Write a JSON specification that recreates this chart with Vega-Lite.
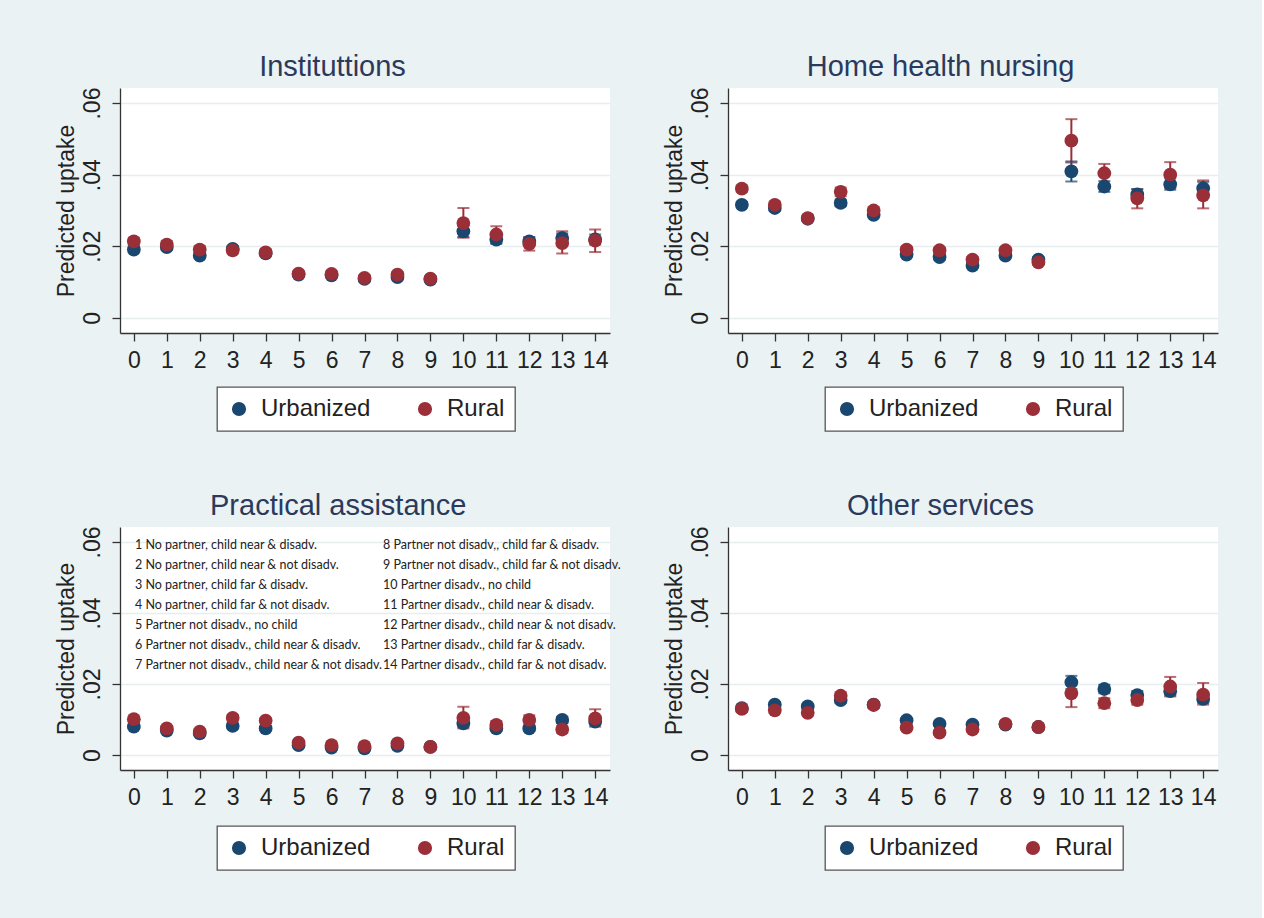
{
"$schema": "https://vega.github.io/schema/vega-lite/v6.json",
"padding": {"left": 55, "top": 53, "right": 44, "bottom": 48},
"data": {"name": "d"},
"datasets": {
"d": [
{"p":"I","x":0,"g":"Urbanized","y":0.0191,"lo":0.0183,"hi":0.0199},
{"p":"I","x":1,"g":"Urbanized","y":0.0198,"lo":0.0190,"hi":0.0206},
{"p":"I","x":2,"g":"Urbanized","y":0.0174,"lo":0.0166,"hi":0.0182},
{"p":"I","x":3,"g":"Urbanized","y":0.0193,"lo":0.0185,"hi":0.0201},
{"p":"I","x":4,"g":"Urbanized","y":0.0180,"lo":0.0172,"hi":0.0188},
{"p":"I","x":5,"g":"Urbanized","y":0.0121,"lo":0.0115,"hi":0.0127},
{"p":"I","x":6,"g":"Urbanized","y":0.0119,"lo":0.0113,"hi":0.0125},
{"p":"I","x":7,"g":"Urbanized","y":0.0109,"lo":0.0103,"hi":0.0115},
{"p":"I","x":8,"g":"Urbanized","y":0.0114,"lo":0.0108,"hi":0.0120},
{"p":"I","x":9,"g":"Urbanized","y":0.0107,"lo":0.0101,"hi":0.0113},
{"p":"I","x":10,"g":"Urbanized","y":0.0242,"lo":0.0226,"hi":0.0258},
{"p":"I","x":11,"g":"Urbanized","y":0.0219,"lo":0.0207,"hi":0.0231},
{"p":"I","x":12,"g":"Urbanized","y":0.0214,"lo":0.0202,"hi":0.0226},
{"p":"I","x":13,"g":"Urbanized","y":0.0223,"lo":0.0210,"hi":0.0236},
{"p":"I","x":14,"g":"Urbanized","y":0.0219,"lo":0.0205,"hi":0.0233},
{"p":"I","x":0,"g":"Rural","y":0.0214,"lo":0.0204,"hi":0.0224},
{"p":"I","x":1,"g":"Rural","y":0.0205,"lo":0.0195,"hi":0.0215},
{"p":"I","x":2,"g":"Rural","y":0.0191,"lo":0.0181,"hi":0.0201},
{"p":"I","x":3,"g":"Rural","y":0.0189,"lo":0.0180,"hi":0.0198},
{"p":"I","x":4,"g":"Rural","y":0.0183,"lo":0.0174,"hi":0.0192},
{"p":"I","x":5,"g":"Rural","y":0.0124,"lo":0.0117,"hi":0.0131},
{"p":"I","x":6,"g":"Rural","y":0.0123,"lo":0.0116,"hi":0.0130},
{"p":"I","x":7,"g":"Rural","y":0.0112,"lo":0.0105,"hi":0.0119},
{"p":"I","x":8,"g":"Rural","y":0.0121,"lo":0.0114,"hi":0.0128},
{"p":"I","x":9,"g":"Rural","y":0.0110,"lo":0.0103,"hi":0.0117},
{"p":"I","x":10,"g":"Rural","y":0.0265,"lo":0.0224,"hi":0.0307},
{"p":"I","x":11,"g":"Rural","y":0.0233,"lo":0.0209,"hi":0.0256},
{"p":"I","x":12,"g":"Rural","y":0.0207,"lo":0.0188,"hi":0.0224},
{"p":"I","x":13,"g":"Rural","y":0.0209,"lo":0.0180,"hi":0.0242},
{"p":"I","x":14,"g":"Rural","y":0.0216,"lo":0.0184,"hi":0.0247},
{"p":"H","x":0,"g":"Urbanized","y":0.0316,"lo":0.0308,"hi":0.0324},
{"p":"H","x":1,"g":"Urbanized","y":0.0307,"lo":0.0299,"hi":0.0315},
{"p":"H","x":2,"g":"Urbanized","y":0.0277,"lo":0.0270,"hi":0.0284},
{"p":"H","x":3,"g":"Urbanized","y":0.0321,"lo":0.0312,"hi":0.0330},
{"p":"H","x":4,"g":"Urbanized","y":0.0288,"lo":0.0280,"hi":0.0296},
{"p":"H","x":5,"g":"Urbanized","y":0.0177,"lo":0.0170,"hi":0.0184},
{"p":"H","x":6,"g":"Urbanized","y":0.0170,"lo":0.0163,"hi":0.0177},
{"p":"H","x":7,"g":"Urbanized","y":0.0146,"lo":0.0140,"hi":0.0152},
{"p":"H","x":8,"g":"Urbanized","y":0.0174,"lo":0.0167,"hi":0.0181},
{"p":"H","x":9,"g":"Urbanized","y":0.0163,"lo":0.0156,"hi":0.0170},
{"p":"H","x":10,"g":"Urbanized","y":0.0409,"lo":0.0381,"hi":0.0437},
{"p":"H","x":11,"g":"Urbanized","y":0.0367,"lo":0.0352,"hi":0.0382},
{"p":"H","x":12,"g":"Urbanized","y":0.0345,"lo":0.0330,"hi":0.0360},
{"p":"H","x":13,"g":"Urbanized","y":0.0373,"lo":0.0358,"hi":0.0390},
{"p":"H","x":14,"g":"Urbanized","y":0.0362,"lo":0.0344,"hi":0.0380},
{"p":"H","x":0,"g":"Rural","y":0.0361,"lo":0.0352,"hi":0.0370},
{"p":"H","x":1,"g":"Rural","y":0.0316,"lo":0.0307,"hi":0.0325},
{"p":"H","x":2,"g":"Rural","y":0.0279,"lo":0.0271,"hi":0.0287},
{"p":"H","x":3,"g":"Rural","y":0.0352,"lo":0.0340,"hi":0.0364},
{"p":"H","x":4,"g":"Rural","y":0.0300,"lo":0.0290,"hi":0.0310},
{"p":"H","x":5,"g":"Rural","y":0.0191,"lo":0.0183,"hi":0.0199},
{"p":"H","x":6,"g":"Rural","y":0.0189,"lo":0.0181,"hi":0.0197},
{"p":"H","x":7,"g":"Rural","y":0.0163,"lo":0.0156,"hi":0.0170},
{"p":"H","x":8,"g":"Rural","y":0.0189,"lo":0.0181,"hi":0.0197},
{"p":"H","x":9,"g":"Rural","y":0.0155,"lo":0.0148,"hi":0.0162},
{"p":"H","x":10,"g":"Rural","y":0.0495,"lo":0.0434,"hi":0.0555},
{"p":"H","x":11,"g":"Rural","y":0.0404,"lo":0.0370,"hi":0.0430},
{"p":"H","x":12,"g":"Rural","y":0.0334,"lo":0.0306,"hi":0.0359},
{"p":"H","x":13,"g":"Rural","y":0.0400,"lo":0.0363,"hi":0.0435},
{"p":"H","x":14,"g":"Rural","y":0.0342,"lo":0.0306,"hi":0.0384},
{"p":"P","x":0,"g":"Urbanized","y":0.0080,"lo":0.0075,"hi":0.0085},
{"p":"P","x":1,"g":"Urbanized","y":0.0069,"lo":0.0064,"hi":0.0074},
{"p":"P","x":2,"g":"Urbanized","y":0.0061,"lo":0.0056,"hi":0.0066},
{"p":"P","x":3,"g":"Urbanized","y":0.0082,"lo":0.0076,"hi":0.0088},
{"p":"P","x":4,"g":"Urbanized","y":0.0075,"lo":0.0070,"hi":0.0080},
{"p":"P","x":5,"g":"Urbanized","y":0.0028,"lo":0.0025,"hi":0.0031},
{"p":"P","x":6,"g":"Urbanized","y":0.0021,"lo":0.0018,"hi":0.0024},
{"p":"P","x":7,"g":"Urbanized","y":0.0019,"lo":0.0016,"hi":0.0022},
{"p":"P","x":8,"g":"Urbanized","y":0.0026,"lo":0.0023,"hi":0.0029},
{"p":"P","x":9,"g":"Urbanized","y":0.0023,"lo":0.0020,"hi":0.0026},
{"p":"P","x":10,"g":"Urbanized","y":0.0089,"lo":0.0079,"hi":0.0099},
{"p":"P","x":11,"g":"Urbanized","y":0.0075,"lo":0.0068,"hi":0.0082},
{"p":"P","x":12,"g":"Urbanized","y":0.0075,"lo":0.0068,"hi":0.0082},
{"p":"P","x":13,"g":"Urbanized","y":0.0099,"lo":0.0090,"hi":0.0108},
{"p":"P","x":14,"g":"Urbanized","y":0.0094,"lo":0.0086,"hi":0.0102},
{"p":"P","x":0,"g":"Rural","y":0.0101,"lo":0.0094,"hi":0.0108},
{"p":"P","x":1,"g":"Rural","y":0.0075,"lo":0.0069,"hi":0.0081},
{"p":"P","x":2,"g":"Rural","y":0.0066,"lo":0.0060,"hi":0.0072},
{"p":"P","x":3,"g":"Rural","y":0.0105,"lo":0.0097,"hi":0.0113},
{"p":"P","x":4,"g":"Rural","y":0.0097,"lo":0.0090,"hi":0.0104},
{"p":"P","x":5,"g":"Rural","y":0.0035,"lo":0.0031,"hi":0.0039},
{"p":"P","x":6,"g":"Rural","y":0.0028,"lo":0.0024,"hi":0.0032},
{"p":"P","x":7,"g":"Rural","y":0.0025,"lo":0.0021,"hi":0.0029},
{"p":"P","x":8,"g":"Rural","y":0.0033,"lo":0.0029,"hi":0.0037},
{"p":"P","x":9,"g":"Rural","y":0.0023,"lo":0.0019,"hi":0.0027},
{"p":"P","x":10,"g":"Rural","y":0.0105,"lo":0.0075,"hi":0.0136},
{"p":"P","x":11,"g":"Rural","y":0.0085,"lo":0.0074,"hi":0.0096},
{"p":"P","x":12,"g":"Rural","y":0.0099,"lo":0.0085,"hi":0.0112},
{"p":"P","x":13,"g":"Rural","y":0.0072,"lo":0.0062,"hi":0.0082},
{"p":"P","x":14,"g":"Rural","y":0.0103,"lo":0.0080,"hi":0.0129},
{"p":"O","x":0,"g":"Urbanized","y":0.0132,"lo":0.0125,"hi":0.0139},
{"p":"O","x":1,"g":"Urbanized","y":0.0142,"lo":0.0135,"hi":0.0149},
{"p":"O","x":2,"g":"Urbanized","y":0.0137,"lo":0.0130,"hi":0.0144},
{"p":"O","x":3,"g":"Urbanized","y":0.0155,"lo":0.0147,"hi":0.0163},
{"p":"O","x":4,"g":"Urbanized","y":0.0142,"lo":0.0135,"hi":0.0149},
{"p":"O","x":5,"g":"Urbanized","y":0.0098,"lo":0.0092,"hi":0.0104},
{"p":"O","x":6,"g":"Urbanized","y":0.0088,"lo":0.0082,"hi":0.0094},
{"p":"O","x":7,"g":"Urbanized","y":0.0086,"lo":0.0080,"hi":0.0092},
{"p":"O","x":8,"g":"Urbanized","y":0.0086,"lo":0.0080,"hi":0.0092},
{"p":"O","x":9,"g":"Urbanized","y":0.0079,"lo":0.0073,"hi":0.0085},
{"p":"O","x":10,"g":"Urbanized","y":0.0205,"lo":0.0186,"hi":0.0223},
{"p":"O","x":11,"g":"Urbanized","y":0.0186,"lo":0.0174,"hi":0.0198},
{"p":"O","x":12,"g":"Urbanized","y":0.0169,"lo":0.0158,"hi":0.0180},
{"p":"O","x":13,"g":"Urbanized","y":0.0180,"lo":0.0168,"hi":0.0192},
{"p":"O","x":14,"g":"Urbanized","y":0.0158,"lo":0.0147,"hi":0.0169},
{"p":"O","x":0,"g":"Rural","y":0.0130,"lo":0.0122,"hi":0.0138},
{"p":"O","x":1,"g":"Rural","y":0.0126,"lo":0.0118,"hi":0.0134},
{"p":"O","x":2,"g":"Rural","y":0.0119,"lo":0.0111,"hi":0.0127},
{"p":"O","x":3,"g":"Rural","y":0.0167,"lo":0.0157,"hi":0.0177},
{"p":"O","x":4,"g":"Rural","y":0.0141,"lo":0.0133,"hi":0.0149},
{"p":"O","x":5,"g":"Rural","y":0.0077,"lo":0.0071,"hi":0.0083},
{"p":"O","x":6,"g":"Rural","y":0.0063,"lo":0.0057,"hi":0.0069},
{"p":"O","x":7,"g":"Rural","y":0.0072,"lo":0.0066,"hi":0.0078},
{"p":"O","x":8,"g":"Rural","y":0.0088,"lo":0.0081,"hi":0.0095},
{"p":"O","x":9,"g":"Rural","y":0.0079,"lo":0.0073,"hi":0.0085},
{"p":"O","x":10,"g":"Rural","y":0.0174,"lo":0.0135,"hi":0.0205},
{"p":"O","x":11,"g":"Rural","y":0.0146,"lo":0.0132,"hi":0.0160},
{"p":"O","x":12,"g":"Rural","y":0.0155,"lo":0.0142,"hi":0.0168},
{"p":"O","x":13,"g":"Rural","y":0.0193,"lo":0.0165,"hi":0.0220},
{"p":"O","x":14,"g":"Rural","y":0.0170,"lo":0.0142,"hi":0.0203}
],
"notes": [
{"col":1,"row":1,"label":"1 No partner, child near & disadv."},
{"col":1,"row":2,"label":"2 No partner, child near & not disadv."},
{"col":1,"row":3,"label":"3 No partner, child  far & disadv."},
{"col":1,"row":4,"label":"4 No partner,  child far & not disadv."},
{"col":1,"row":5,"label":"5 Partner not disadv., no child"},
{"col":1,"row":6,"label":"6 Partner not disadv., child near & disadv."},
{"col":1,"row":7,"label":"7 Partner not disadv., child near & not disadv."},
{"col":2,"row":1,"label":"8 Partner not disadv,, child far & disadv."},
{"col":2,"row":2,"label":"9 Partner not disadv., child far & not disadv."},
{"col":2,"row":3,"label":"10 Partner disadv., no child"},
{"col":2,"row":4,"label":"11 Partner disadv., child near & disadv."},
{"col":2,"row":5,"label":"12 Partner disadv., child near & not disadv."},
{"col":2,"row":6,"label":"13 Partner disadv., child far & disadv."},
{"col":2,"row":7,"label":"14 Partner disadv., child far & not disadv."}
]
},
"columns": 2,
"bounds": "flush",
"spacing": {"row": 194, "column": 118},
"resolve": {"scale": {"x": "independent", "y": "independent", "color": "independent", "fill": "independent", "stroke": "independent"}, "axis": {"x": "independent", "y": "independent"}, "legend": {"color": "independent"}},
"concat": [
{
"title": "Instituttions",
"width": 490, "height": 245,
"transform": [{"filter": {"field": "p", "equal": "I"}}],
"layer": [
{"mark": {"type": "rule", "strokeWidth": 2},
 "encoding": {"x": {"field": "x", "type": "quantitative", "scale": {"domain": [-0.42, 14.45], "nice": false, "zero": false}, "axis": {"title": null, "values": [0,1,2,3,4,5,6,7,8,9,10,11,12,13,14], "format": "d", "grid": false}},
  "y": {"field": "lo", "type": "quantitative", "scale": {"domain": [-0.0042, 0.0642], "nice": false, "zero": false}, "axis": {"title": "Predicted uptake", "values": [0, 0.02, 0.04, 0.06], "labelExpr": "datum.value == 0 ? '0' : replace(format(datum.value, '.2f'), '0.', '.')", "grid": true}},
  "y2": {"field": "hi"},
  "stroke": {"field": "g", "type": "nominal", "scale": {"domain": ["Rural", "Urbanized"], "range": ["#9B2F38", "#1A476F"]}, "legend": null}}},
{"mark": {"type": "tick", "orient": "horizontal", "size": 12, "thickness": 2},
 "encoding": {"x": {"field": "x", "type": "quantitative", "scale": {"domain": [-0.42, 14.45], "nice": false, "zero": false}, "axis": {"title": null, "values": [0,1,2,3,4,5,6,7,8,9,10,11,12,13,14], "format": "d", "grid": false}},
  "y": {"field": "lo", "type": "quantitative", "scale": {"domain": [-0.0042, 0.0642], "nice": false, "zero": false}, "axis": {"title": "Predicted uptake", "values": [0, 0.02, 0.04, 0.06], "labelExpr": "datum.value == 0 ? '0' : replace(format(datum.value, '.2f'), '0.', '.')", "grid": true}},
  "fill": {"field": "g", "type": "nominal", "scale": {"domain": ["Rural", "Urbanized"], "range": ["#9B2F38", "#1A476F"]}, "legend": null}}},
{"mark": {"type": "tick", "orient": "horizontal", "size": 12, "thickness": 2},
 "encoding": {"x": {"field": "x", "type": "quantitative", "scale": {"domain": [-0.42, 14.45], "nice": false, "zero": false}, "axis": {"title": null, "values": [0,1,2,3,4,5,6,7,8,9,10,11,12,13,14], "format": "d", "grid": false}},
  "y": {"field": "hi", "type": "quantitative", "scale": {"domain": [-0.0042, 0.0642], "nice": false, "zero": false}, "axis": {"title": "Predicted uptake", "values": [0, 0.02, 0.04, 0.06], "labelExpr": "datum.value == 0 ? '0' : replace(format(datum.value, '.2f'), '0.', '.')", "grid": true}},
  "fill": {"field": "g", "type": "nominal", "scale": {"domain": ["Rural", "Urbanized"], "range": ["#9B2F38", "#1A476F"]}, "legend": null}}},
{"mark": {"type": "point", "filled": true, "size": 190, "opacity": 1, "strokeWidth": 0},
 "encoding": {"x": {"field": "x", "type": "quantitative", "scale": {"domain": [-0.42, 14.45], "nice": false, "zero": false}, "axis": {"title": null, "values": [0,1,2,3,4,5,6,7,8,9,10,11,12,13,14], "format": "d", "grid": false}},
  "y": {"field": "y", "type": "quantitative", "scale": {"domain": [-0.0042, 0.0642], "nice": false, "zero": false}, "axis": {"title": "Predicted uptake", "values": [0, 0.02, 0.04, 0.06], "labelExpr": "datum.value == 0 ? '0' : replace(format(datum.value, '.2f'), '0.', '.')", "grid": true}},
  "color": {"field": "g", "type": "nominal", "scale": {"domain": ["Urbanized", "Rural"], "range": ["#1A476F", "#9B2F38"]}, "legend": {"orient": "none", "legendX": 97, "legendY": 299, "direction": "horizontal", "title": null}}}}
]
},
{
"title": "Home health nursing",
"width": 490, "height": 245,
"transform": [{"filter": {"field": "p", "equal": "H"}}],
"layer": [
{"mark": {"type": "rule", "strokeWidth": 2},
 "encoding": {"x": {"field": "x", "type": "quantitative", "scale": {"domain": [-0.42, 14.45], "nice": false, "zero": false}, "axis": {"title": null, "values": [0,1,2,3,4,5,6,7,8,9,10,11,12,13,14], "format": "d", "grid": false}},
  "y": {"field": "lo", "type": "quantitative", "scale": {"domain": [-0.0042, 0.0642], "nice": false, "zero": false}, "axis": {"title": "Predicted uptake", "values": [0, 0.02, 0.04, 0.06], "labelExpr": "datum.value == 0 ? '0' : replace(format(datum.value, '.2f'), '0.', '.')", "grid": true}},
  "y2": {"field": "hi"},
  "stroke": {"field": "g", "type": "nominal", "scale": {"domain": ["Rural", "Urbanized"], "range": ["#9B2F38", "#1A476F"]}, "legend": null}}},
{"mark": {"type": "tick", "orient": "horizontal", "size": 12, "thickness": 2},
 "encoding": {"x": {"field": "x", "type": "quantitative", "scale": {"domain": [-0.42, 14.45], "nice": false, "zero": false}, "axis": {"title": null, "values": [0,1,2,3,4,5,6,7,8,9,10,11,12,13,14], "format": "d", "grid": false}},
  "y": {"field": "lo", "type": "quantitative", "scale": {"domain": [-0.0042, 0.0642], "nice": false, "zero": false}, "axis": {"title": "Predicted uptake", "values": [0, 0.02, 0.04, 0.06], "labelExpr": "datum.value == 0 ? '0' : replace(format(datum.value, '.2f'), '0.', '.')", "grid": true}},
  "fill": {"field": "g", "type": "nominal", "scale": {"domain": ["Rural", "Urbanized"], "range": ["#9B2F38", "#1A476F"]}, "legend": null}}},
{"mark": {"type": "tick", "orient": "horizontal", "size": 12, "thickness": 2},
 "encoding": {"x": {"field": "x", "type": "quantitative", "scale": {"domain": [-0.42, 14.45], "nice": false, "zero": false}, "axis": {"title": null, "values": [0,1,2,3,4,5,6,7,8,9,10,11,12,13,14], "format": "d", "grid": false}},
  "y": {"field": "hi", "type": "quantitative", "scale": {"domain": [-0.0042, 0.0642], "nice": false, "zero": false}, "axis": {"title": "Predicted uptake", "values": [0, 0.02, 0.04, 0.06], "labelExpr": "datum.value == 0 ? '0' : replace(format(datum.value, '.2f'), '0.', '.')", "grid": true}},
  "fill": {"field": "g", "type": "nominal", "scale": {"domain": ["Rural", "Urbanized"], "range": ["#9B2F38", "#1A476F"]}, "legend": null}}},
{"mark": {"type": "point", "filled": true, "size": 190, "opacity": 1, "strokeWidth": 0},
 "encoding": {"x": {"field": "x", "type": "quantitative", "scale": {"domain": [-0.42, 14.45], "nice": false, "zero": false}, "axis": {"title": null, "values": [0,1,2,3,4,5,6,7,8,9,10,11,12,13,14], "format": "d", "grid": false}},
  "y": {"field": "y", "type": "quantitative", "scale": {"domain": [-0.0042, 0.0642], "nice": false, "zero": false}, "axis": {"title": "Predicted uptake", "values": [0, 0.02, 0.04, 0.06], "labelExpr": "datum.value == 0 ? '0' : replace(format(datum.value, '.2f'), '0.', '.')", "grid": true}},
  "color": {"field": "g", "type": "nominal", "scale": {"domain": ["Urbanized", "Rural"], "range": ["#1A476F", "#9B2F38"]}, "legend": {"orient": "none", "legendX": 97, "legendY": 299, "direction": "horizontal", "title": null}}}}
]
},
{
"title": "Practical assistance",
"width": 490, "height": 243,
"resolve": {"scale": {"x": "independent", "y": "independent"}, "axis": {"x": "independent", "y": "independent"}},
"layer": [
{
"transform": [{"filter": {"field": "p", "equal": "P"}}],
"layer": [
{"mark": {"type": "rule", "strokeWidth": 2},
 "encoding": {"x": {"field": "x", "type": "quantitative", "scale": {"domain": [-0.42, 14.45], "nice": false, "zero": false}, "axis": {"title": null, "values": [0,1,2,3,4,5,6,7,8,9,10,11,12,13,14], "format": "d", "grid": false}},
  "y": {"field": "lo", "type": "quantitative", "scale": {"domain": [-0.0042, 0.0642], "nice": false, "zero": false}, "axis": {"title": "Predicted uptake", "values": [0, 0.02, 0.04, 0.06], "labelExpr": "datum.value == 0 ? '0' : replace(format(datum.value, '.2f'), '0.', '.')", "grid": true}},
  "y2": {"field": "hi"},
  "stroke": {"field": "g", "type": "nominal", "scale": {"domain": ["Rural", "Urbanized"], "range": ["#9B2F38", "#1A476F"]}, "legend": null}}},
{"mark": {"type": "tick", "orient": "horizontal", "size": 12, "thickness": 2},
 "encoding": {"x": {"field": "x", "type": "quantitative", "scale": {"domain": [-0.42, 14.45], "nice": false, "zero": false}, "axis": {"title": null, "values": [0,1,2,3,4,5,6,7,8,9,10,11,12,13,14], "format": "d", "grid": false}},
  "y": {"field": "lo", "type": "quantitative", "scale": {"domain": [-0.0042, 0.0642], "nice": false, "zero": false}, "axis": {"title": "Predicted uptake", "values": [0, 0.02, 0.04, 0.06], "labelExpr": "datum.value == 0 ? '0' : replace(format(datum.value, '.2f'), '0.', '.')", "grid": true}},
  "fill": {"field": "g", "type": "nominal", "scale": {"domain": ["Rural", "Urbanized"], "range": ["#9B2F38", "#1A476F"]}, "legend": null}}},
{"mark": {"type": "tick", "orient": "horizontal", "size": 12, "thickness": 2},
 "encoding": {"x": {"field": "x", "type": "quantitative", "scale": {"domain": [-0.42, 14.45], "nice": false, "zero": false}, "axis": {"title": null, "values": [0,1,2,3,4,5,6,7,8,9,10,11,12,13,14], "format": "d", "grid": false}},
  "y": {"field": "hi", "type": "quantitative", "scale": {"domain": [-0.0042, 0.0642], "nice": false, "zero": false}, "axis": {"title": "Predicted uptake", "values": [0, 0.02, 0.04, 0.06], "labelExpr": "datum.value == 0 ? '0' : replace(format(datum.value, '.2f'), '0.', '.')", "grid": true}},
  "fill": {"field": "g", "type": "nominal", "scale": {"domain": ["Rural", "Urbanized"], "range": ["#9B2F38", "#1A476F"]}, "legend": null}}},
{"mark": {"type": "point", "filled": true, "size": 190, "opacity": 1, "strokeWidth": 0},
 "encoding": {"x": {"field": "x", "type": "quantitative", "scale": {"domain": [-0.42, 14.45], "nice": false, "zero": false}, "axis": {"title": null, "values": [0,1,2,3,4,5,6,7,8,9,10,11,12,13,14], "format": "d", "grid": false}},
  "y": {"field": "y", "type": "quantitative", "scale": {"domain": [-0.0042, 0.0642], "nice": false, "zero": false}, "axis": {"title": "Predicted uptake", "values": [0, 0.02, 0.04, 0.06], "labelExpr": "datum.value == 0 ? '0' : replace(format(datum.value, '.2f'), '0.', '.')", "grid": true}},
  "color": {"field": "g", "type": "nominal", "scale": {"domain": ["Urbanized", "Rural"], "range": ["#1A476F", "#9B2F38"]}, "legend": {"orient": "none", "legendX": 97, "legendY": 299, "direction": "horizontal", "title": null}}}}
]
},
{"data": {"name": "notes"}, "mark": {"type": "text", "align": "left", "baseline": "middle", "font": "Lato", "fontSize": 12.5, "color": "#222"},
 "encoding": {"x": {"field": "col", "type": "quantitative", "scale": {"domain": [0.9395, 2.9153], "nice": false, "zero": false}, "axis": null},
  "y": {"field": "row", "type": "quantitative", "scale": {"domain": [0.1, 12.25], "nice": false, "zero": false, "reverse": true}, "axis": null},
  "text": {"field": "label"}}}
]
},
{
"title": "Other services",
"width": 490, "height": 243,
"transform": [{"filter": {"field": "p", "equal": "O"}}],
"layer": [
{"mark": {"type": "rule", "strokeWidth": 2},
 "encoding": {"x": {"field": "x", "type": "quantitative", "scale": {"domain": [-0.42, 14.45], "nice": false, "zero": false}, "axis": {"title": null, "values": [0,1,2,3,4,5,6,7,8,9,10,11,12,13,14], "format": "d", "grid": false}},
  "y": {"field": "lo", "type": "quantitative", "scale": {"domain": [-0.0042, 0.0642], "nice": false, "zero": false}, "axis": {"title": "Predicted uptake", "values": [0, 0.02, 0.04, 0.06], "labelExpr": "datum.value == 0 ? '0' : replace(format(datum.value, '.2f'), '0.', '.')", "grid": true}},
  "y2": {"field": "hi"},
  "stroke": {"field": "g", "type": "nominal", "scale": {"domain": ["Rural", "Urbanized"], "range": ["#9B2F38", "#1A476F"]}, "legend": null}}},
{"mark": {"type": "tick", "orient": "horizontal", "size": 12, "thickness": 2},
 "encoding": {"x": {"field": "x", "type": "quantitative", "scale": {"domain": [-0.42, 14.45], "nice": false, "zero": false}, "axis": {"title": null, "values": [0,1,2,3,4,5,6,7,8,9,10,11,12,13,14], "format": "d", "grid": false}},
  "y": {"field": "lo", "type": "quantitative", "scale": {"domain": [-0.0042, 0.0642], "nice": false, "zero": false}, "axis": {"title": "Predicted uptake", "values": [0, 0.02, 0.04, 0.06], "labelExpr": "datum.value == 0 ? '0' : replace(format(datum.value, '.2f'), '0.', '.')", "grid": true}},
  "fill": {"field": "g", "type": "nominal", "scale": {"domain": ["Rural", "Urbanized"], "range": ["#9B2F38", "#1A476F"]}, "legend": null}}},
{"mark": {"type": "tick", "orient": "horizontal", "size": 12, "thickness": 2},
 "encoding": {"x": {"field": "x", "type": "quantitative", "scale": {"domain": [-0.42, 14.45], "nice": false, "zero": false}, "axis": {"title": null, "values": [0,1,2,3,4,5,6,7,8,9,10,11,12,13,14], "format": "d", "grid": false}},
  "y": {"field": "hi", "type": "quantitative", "scale": {"domain": [-0.0042, 0.0642], "nice": false, "zero": false}, "axis": {"title": "Predicted uptake", "values": [0, 0.02, 0.04, 0.06], "labelExpr": "datum.value == 0 ? '0' : replace(format(datum.value, '.2f'), '0.', '.')", "grid": true}},
  "fill": {"field": "g", "type": "nominal", "scale": {"domain": ["Rural", "Urbanized"], "range": ["#9B2F38", "#1A476F"]}, "legend": null}}},
{"mark": {"type": "point", "filled": true, "size": 190, "opacity": 1, "strokeWidth": 0},
 "encoding": {"x": {"field": "x", "type": "quantitative", "scale": {"domain": [-0.42, 14.45], "nice": false, "zero": false}, "axis": {"title": null, "values": [0,1,2,3,4,5,6,7,8,9,10,11,12,13,14], "format": "d", "grid": false}},
  "y": {"field": "y", "type": "quantitative", "scale": {"domain": [-0.0042, 0.0642], "nice": false, "zero": false}, "axis": {"title": "Predicted uptake", "values": [0, 0.02, 0.04, 0.06], "labelExpr": "datum.value == 0 ? '0' : replace(format(datum.value, '.2f'), '0.', '.')", "grid": true}},
  "color": {"field": "g", "type": "nominal", "scale": {"domain": ["Urbanized", "Rural"], "range": ["#1A476F", "#9B2F38"]}, "legend": {"orient": "none", "legendX": 97, "legendY": 299, "direction": "horizontal", "title": null}}}}
]
}
],
"config": {
 "background": "#EAF2F3",
 "view": {"fill": "white", "stroke": null},
 "font": "Liberation Sans",
 "title": {"font": "Liberation Sans", "fontSize": 29, "fontWeight": "normal", "color": "#2B3A5C", "baseline": "alphabetic", "offset": 5, "anchor": "middle", "frame": "bounds"},
 "axis": {"labelFont": "Liberation Sans", "labelFontSize": 23, "labelColor": "#222", "titleFont": "Liberation Sans", "titleFontSize": 23, "titleFontWeight": "normal", "titleColor": "#222", "domainColor": "#333", "tickColor": "#333", "domainWidth": 1.3, "tickWidth": 1.3, "tickSize": 8, "labelPadding": 8, "gridColor": "#E6EEF0", "gridWidth": 1.5},
 "axisY": {"labelAngle": -90, "labelAlign": "center", "labelBaseline": "bottom", "titlePadding": 3},
 "legend": {"fillColor": "white", "strokeColor": "#555", "strokeWidth": 1.3, "padding": 10, "cornerRadius": 0, "labelFont": "Liberation Sans", "labelFontSize": 24, "labelColor": "#222", "symbolType": "circle", "symbolSize": 200, "symbolStrokeWidth": 0, "columnPadding": 42, "labelOffset": 10, "labelLimit": 300}
}
}
